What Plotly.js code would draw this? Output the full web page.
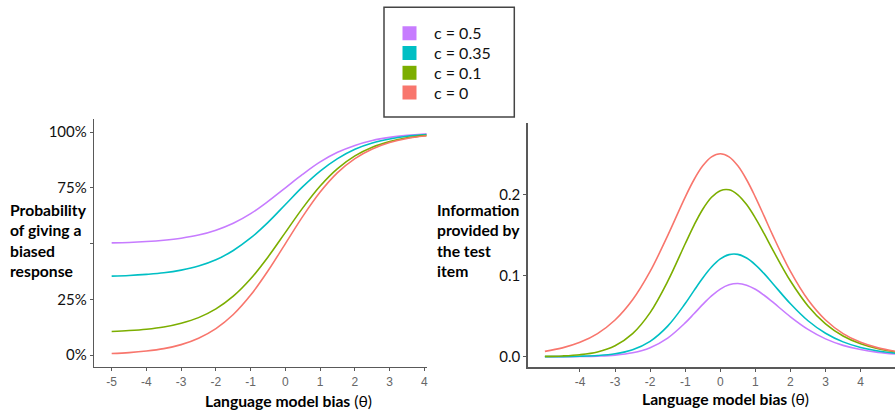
<!DOCTYPE html>
<html>
<head>
<meta charset="utf-8">
<script src="https://cdn.plot.ly/plotly-3.0.1.min.js"></script>
<style>html,body{margin:0;padding:0;background:#fff;}#chart{width:895px;height:411px;}</style>
</head>
<body>
<div id="chart"></div>
<script>
// ---- data ----
const seriesNames = ['c = 0.5', 'c = 0.35', 'c = 0.1', 'c = 0'];
const seriesColors = ['#C77CFF', '#00BFC4', '#7CAE00', '#F8766D'];

// Left panel: probability of giving a biased response
const thetaLeft = [-5, -4.5, -4, -3.5, -3, -2.5, -2, -1.5, -1, -0.5, 0, 0.5, 1, 1.5, 2, 2.5, 3, 3.5, 4, 4.5];
const probC05  = [0.503, 0.505, 0.509, 0.515, 0.524, 0.538, 0.560, 0.591, 0.634, 0.689, 0.750, 0.811, 0.866, 0.909, 0.940, 0.962, 0.976, 0.985, 0.991, 0.995];
const probC035 = [0.354, 0.357, 0.362, 0.369, 0.381, 0.399, 0.427, 0.469, 0.525, 0.595, 0.675, 0.755, 0.825, 0.881, 0.923, 0.951, 0.969, 0.981, 0.988, 0.993];
const probC01  = [0.106, 0.110, 0.116, 0.126, 0.143, 0.168, 0.207, 0.264, 0.342, 0.440, 0.550, 0.660, 0.758, 0.836, 0.893, 0.932, 0.957, 0.974, 0.984, 0.990];
const probC0   = [0.007, 0.011, 0.018, 0.029, 0.047, 0.076, 0.119, 0.182, 0.269, 0.378, 0.500, 0.622, 0.731, 0.818, 0.881, 0.924, 0.953, 0.971, 0.982, 0.989];

// Right panel: information provided by the test item
const thetaRight = [-5, -4.5, -4, -3.5, -3, -2.5, -2, -1.5, -1, -0.75, -0.5, -0.25, 0, 0.25, 0.5, 0.75, 1, 1.25, 1.5, 2, 2.5, 3, 3.5, 4, 4.5, 5];
const infoC05  = [0.0000, 0.0001, 0.0003, 0.0008, 0.0020, 0.0049, 0.0112, 0.0230, 0.0417, 0.0529, 0.0644, 0.0749, 0.0833, 0.0886, 0.0902, 0.0881, 0.0830, 0.0757, 0.0671, 0.0492, 0.0337, 0.0220, 0.0140, 0.0088, 0.0054, 0.0033];
const infoC035 = [0.0001, 0.0002, 0.0006, 0.0015, 0.0037, 0.0087, 0.0190, 0.0377, 0.0655, 0.0814, 0.0969, 0.1104, 0.1204, 0.1257, 0.1260, 0.1215, 0.1132, 0.1023, 0.0899, 0.0652, 0.0443, 0.0289, 0.0183, 0.0114, 0.0070, 0.0043];
const infoC01  = [0.0004, 0.0010, 0.0025, 0.0059, 0.0135, 0.0284, 0.0543, 0.0927, 0.1391, 0.1618, 0.1816, 0.1963, 0.2045, 0.2055, 0.1994, 0.1873, 0.1707, 0.1515, 0.1313, 0.0932, 0.0626, 0.0405, 0.0255, 0.0159, 0.0098, 0.0060];
const infoC0   = [0.0066, 0.0109, 0.0177, 0.0285, 0.0452, 0.0701, 0.1050, 0.1491, 0.1966, 0.2179, 0.2350, 0.2461, 0.2500, 0.2461, 0.2350, 0.2179, 0.1966, 0.1731, 0.1491, 0.1050, 0.0701, 0.0452, 0.0285, 0.0177, 0.0109, 0.0066];

const leftTickVals = [-5, -4, -3, -2, -1, 0, 1, 2, 3, 4];
const rightTickVals = [-4, -3, -2, -1, 0, 1, 2, 3, 4];
const probTickVals = [0, 0.25, 0.5, 0.75, 1];
const probTickText = ['0%', '25%', '', '75%', '100%'];
const infoTickVals = [0, 0.1, 0.2];
const infoTickText = ['0.0', '0.1', '0.2'];

const probSeries = [probC05, probC035, probC01, probC0];
const infoSeries = [infoC05, infoC035, infoC01, infoC0];

// ---- build traces ----
const W = 895, H = 411;
const traces = [];
for (let i = 0; i < 4; i++) {
  traces.push({
    x: thetaLeft, y: probSeries[i], xaxis: 'x', yaxis: 'y',
    mode: 'lines', line: {color: seriesColors[i], width: 1.6, shape: 'spline', smoothing: 1},
    showlegend: false, hoverinfo: 'skip', name: seriesNames[i]
  });
  traces.push({
    x: thetaRight, y: infoSeries[i], xaxis: 'x2', yaxis: 'y2',
    mode: 'lines', line: {color: seriesColors[i], width: 1.6, shape: 'spline', smoothing: 1},
    showlegend: false, hoverinfo: 'skip', name: seriesNames[i]
  });
}
// legend swatches, one legend per entry so the spacing can match the reference
const legendIds = ['legend', 'legend2', 'legend3', 'legend4'];
const legendCenters = [33.3, 53.1, 72.9, 92.7];
for (let i = 0; i < 4; i++) {
  traces.push({
    x: [null], y: [null], xaxis: 'x', yaxis: 'y',
    mode: 'markers', marker: {symbol: 'square', size: 14, color: seriesColors[i]},
    name: seriesNames[i], showlegend: true, legend: legendIds[i]
  });
}

const axisLine = '#595959';
const xTickFont = {family: 'Liberation Sans, Arial, sans-serif', size: 12, color: '#666666'};
const yTickFont = {family: 'Lato, sans-serif', size: 15, color: '#111111'};
const titleFont = {family: 'Lato, sans-serif', size: 15.7, color: '#000000'};

const layout = {
  width: W, height: H,
  margin: {l: 0, r: 0, t: 0, b: 0},
  paper_bgcolor: '#ffffff', plot_bgcolor: '#ffffff',
  showlegend: true,
  xaxis: {
    domain: [94.3 / W, 426.5 / W], range: [-5.5, 4.06], anchor: 'y',
    tickvals: leftTickVals, ticktext: leftTickVals.map(String),
    showline: true, linecolor: axisLine, linewidth: 1.5,
    ticks: 'outside', ticklen: 3, tickcolor: axisLine, tickwidth: 1,
    tickfont: xTickFont, showgrid: false, zeroline: false
  },
  yaxis: {
    domain: [1 - 366.7 / H, 1 - 119.3 / H], range: [-0.052, 1.057], anchor: 'x',
    tickvals: probTickVals, ticktext: probTickText,
    showline: true, linecolor: axisLine, linewidth: 1.5,
    ticks: 'outside', ticklen: 3, tickcolor: axisLine, tickwidth: 1,
    tickfont: yTickFont, showgrid: false, zeroline: false
  },
  xaxis2: {
    domain: [527.7 / W, 1], range: [-5.49, 4.98], anchor: 'y2',
    tickvals: rightTickVals, ticktext: rightTickVals.map(String),
    showline: true, linecolor: axisLine, linewidth: 1.5,
    ticks: 'outside', ticklen: 3, tickcolor: axisLine, tickwidth: 1,
    tickfont: xTickFont, showgrid: false, zeroline: false
  },
  yaxis2: {
    domain: [1 - 367.3 / H, 1 - 123.3 / H], range: [-0.013, 0.2874], anchor: 'x2',
    tickvals: infoTickVals, ticktext: infoTickText,
    showline: true, linecolor: axisLine, linewidth: 1.5,
    ticks: 'outside', ticklen: 3, tickcolor: axisLine, tickwidth: 1,
    tickfont: yTickFont, showgrid: false, zeroline: false
  },
  shapes: [{
    type: 'rect', xref: 'paper', yref: 'paper',
    x0: 384 / W, x1: 514.3 / W, y0: 1 - 117 / H, y1: 1 - 7.3 / H,
    line: {color: '#444444', width: 1.5}, fillcolor: 'rgba(0,0,0,0)'
  }],
  annotations: [
    {xref: 'paper', yref: 'paper', x: 288 / W, y: 1 - 400.5 / H, xanchor: 'center', yanchor: 'middle',
     text: '<b>Language model bias</b> (θ)', showarrow: false, font: titleFont},
    {xref: 'paper', yref: 'paper', x: 725.8 / W, y: 1 - 399 / H, xanchor: 'center', yanchor: 'middle',
     text: '<b>Language model bias</b> (θ)', showarrow: false, font: titleFont},
    {xref: 'paper', yref: 'paper', x: 8 / W, y: 1 - 241 / H, xanchor: 'left', yanchor: 'middle', align: 'left',
     text: '<b>Probability<br>of giving a<br>biased<br>response</b>', showarrow: false, font: titleFont},
    {xref: 'paper', yref: 'paper', x: 434.5 / W, y: 1 - 240.5 / H, xanchor: 'left', yanchor: 'middle', align: 'left',
     text: '<b>Information<br>provided by<br>the test<br>item</b>', showarrow: false, font: titleFont}
  ]
};
for (let i = 0; i < 4; i++) {
  layout[legendIds[i]] = {
    x: 385 / W, y: 1 - legendCenters[i] / H, xanchor: 'left', yanchor: 'middle',
    bgcolor: 'rgba(0,0,0,0)', borderwidth: 0,
    font: {family: 'Lato, sans-serif', size: 16, color: '#111111'},
    itemwidth: 39
  };
}

Plotly.newPlot('chart', traces, layout, {displayModeBar: false, staticPlot: true});
</script>
</body>
</html>
